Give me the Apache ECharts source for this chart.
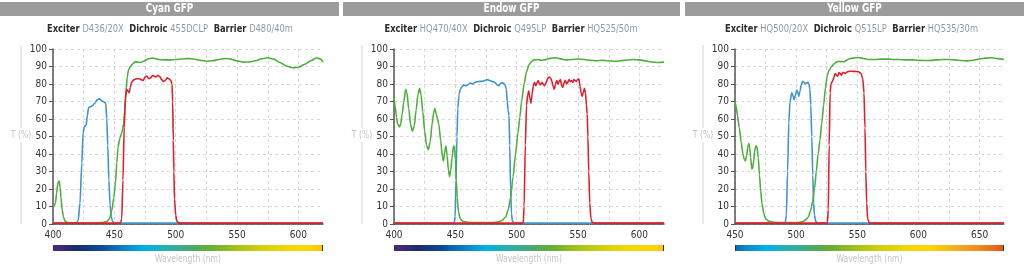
<!DOCTYPE html>
<html><head><meta charset="utf-8">
<script src="https://cdn.jsdelivr.net/npm/echarts@6/dist/echarts.min.js"></script>
<style>html,body{margin:0;padding:0;background:#fff}#c{width:1024px;height:266px}</style>
</head><body><div id="c"></div>
<script>
// ---------- DATA ----------
const panelTitles = ['Cyan GFP', 'Endow GFP', 'Yellow GFP'];
const exciterNames = ['D436/20X', 'HQ470/40X', 'HQ500/20X'];
const dichroicNames = ['455DCLP', 'Q495LP', 'Q515LP'];
const barrierNames = ['D480/40m', 'HQ525/50m', 'HQ535/30m'];
const xRanges = [[400, 620], [400, 620], [450, 670]];
const yTickValues = [0, 10, 20, 30, 40, 50, 60, 70, 80, 90, 100];

// Cyan GFP: [wavelength nm, T %]
const cyanExciter = [[400,0.5],[419,0.5],[420.5,2],[422,12],[423.5,35],[424.5,52],[425.5,55.5],[427,56.5],[428,62],[429,66.5],[430.5,67],[432,67.5],[434,69],[436,71],[437.8,71.5],[439.5,70.5],[441,70],[443,69],[443.8,60],[444.6,45],[445.5,25],[446.5,11],[447.5,4],[448.5,1.5],[450,0.5],[620,0.5]];
const cyanDichroic = [[400,11.5],[401,10.5],[402,12],[403,18],[404,23.5],[405,24.5],[405.8,21],[406.5,15],[407.5,8],[408.5,4],[410,1.5],[412,0.8],[420,0.6],[430,0.6],[440,0.8],[444,1.5],[446,3],[448,8],[449.5,15],[451,24],[452,35],[453,44],[454.5,49],[456,52],[457.5,57],[458.5,65],[459.5,76],[460.5,84],[461.5,88],[463,90],[465,91.5],[467,92.8],[469,92.5],[471,92.3],[473,92.7],[475,93.5],[477,94.2],[479,94.6],[481,94.8],[483,94.6],[485,94.2],[488,93.9],[491,93.8],[495,93.8],[500,94],[505,94.3],[510,94.5],[515,94.3],[520,93.5],[525,93],[530,93.3],[535,94],[540,94.6],[545,94.2],[550,93.2],[555,92.5],[560,92.6],[565,93.3],[570,94.4],[575,95],[580,94.2],[585,92.3],[590,90.3],[595,89.3],[600,89.6],[605,91.2],[610,93.3],[615,95],[618,94.2],[620,92.5]];
const cyanBarrier = [[400,0.5],[455,0.5],[456,3],[457,25],[458,55],[459,72],[460,77],[461,76],[462,75],[463,78],[464,81],[466,82.5],[468,83],[470,83],[472,82.5],[473.5,82],[475,84],[476.5,84.5],[478,83],[479.5,83.5],[481,84.8],[482.5,84.5],[484,84],[485.5,85],[487,84.2],[488.5,82.5],[490,81.5],[491.5,82],[493,83.5],[494.5,83],[496,82],[497,80],[497.5,70],[498,48],[498.5,30],[499,14],[500,5],[501,1.5],[502.5,0.5],[620,0.5]];

// Endow GFP
const endowExciter = [[400,0.5],[449,0.5],[449.8,4],[450.5,25],[451.3,50],[452,66],[453,74],[454,77],[455.5,78.5],[457,79.5],[458.5,79],[460,79.5],[462,80.5],[464,80],[466,81],[468,81.3],[470,81.5],[472,81.5],[474,82],[476,82.5],[478,82],[480,81.5],[482,81],[484,79.5],[485.5,79],[487,80.5],[489,80.5],[490.5,79.5],[491.5,77],[492.3,70],[493,65],[493.7,62],[494.3,45],[495,20],[495.7,6],[496.5,1.5],[498,0.5],[620,0.5]];
const endowDichroic = [[400,72],[401,67],[402,61],[403,57],[404.5,55.5],[405.5,57],[406.5,62],[408,70],[409.5,77],[410.5,75],[412,66],[413.5,57],[415,53],[416.5,56],[418,65],[419.5,74],[420.8,77.5],[422,74],[423.5,64],[425,53],[426.5,45],[428,42.5],[429.5,47],[431,57],[432.5,64],[433.3,66],[434.3,63],[435.5,60],[436.5,57],[438,48],[439.5,38],[440.3,36],[441.3,41],[442.3,44.5],[443.3,39],[444.3,31],[445.3,27],[446.3,31],[447.3,38],[448.5,44.5],[449.3,44],[450,37],[450.8,25],[451.5,15],[452.5,7],[454,3],[456,1.5],[460,1],[470,0.8],[480,0.8],[485,1.2],[488,2],[491,4],[493,8],[495,15],[497,27],[499,40],[501,52],[502.5,61],[504,70],[506,80],[508,87],[510,91],[512,92.8],[514,93.8],[517,94],[520,93.6],[523,93.8],[526,94.4],[529,94.9],[532,95],[535,94.5],[540,93.8],[545,94],[550,94.3],[555,94],[560,93.5],[565,93.3],[570,93.5],[575,93.3],[580,93],[585,93.3],[590,93.7],[595,94],[600,93.8],[605,93.2],[610,92.6],[615,92.3],[620,92.5]];
const endowBarrier = [[400,0.5],[505.3,0.5],[506,10],[507,45],[508,68],[509,74],[509.8,76],[510.7,72],[511.6,69],[512.5,74],[513.5,79],[514.5,81],[515.5,79],[516.5,80.5],[517.5,82],[518.5,80],[519.5,79.5],[520.5,81],[521.5,80],[522.5,79],[523.5,80],[524.5,82],[525.5,83.5],[526.5,84],[527.5,83.5],[528.5,82],[529.5,79],[530.6,77],[531.6,80],[532.6,82],[533.6,80],[534.6,81.5],[535.6,82.5],[536.6,79],[537.6,78],[538.6,81],[539.6,82],[540.6,80],[541.6,81],[542.6,82.5],[543.6,81.5],[544.6,82],[545.6,81],[546.6,82.5],[547.6,82],[548.6,81.5],[549.6,82.5],[550.6,83],[551.5,79],[552.5,75],[553.3,73],[554.2,75],[555.2,77.5],[556,75],[556.8,68],[557.4,63],[558,50],[558.7,30],[559.5,12],[560.5,3],[561.5,1],[563,0.5],[620,0.5]];

// Yellow GFP
const yellowExciter = [[450,0.5],[491,0.5],[492,5],[493,30],[494,58],[495,70],[496.4,75],[497.5,73],[498.4,71],[499.5,74],[500.5,76.5],[501.4,75],[502.2,73],[503.2,76],[504.2,79.5],[505.3,81.5],[506.5,81],[507.4,80],[508.5,80.5],[509.6,81],[510.5,80],[511.2,77],[512,68],[512.8,50],[513.6,28],[514.3,12],[515,5],[516,1.5],[517.5,0.5],[670,0.5]];
const yellowDichroic = [[450,70],[451,67],[452,62],[453.5,55],[455,47],[456.5,40],[457.5,37],[458.5,36],[459.5,39],[460.5,44],[461.3,46],[462,44],[462.8,38],[463.7,31.5],[464.5,32],[465.3,36],[466.2,42],[467.2,44.7],[468,44],[469,38],[470,28],[471,19],[472,12],[473.5,6],[475,3],[478,1.5],[482,1],[490,0.8],[500,0.8],[505,1.2],[508,2.5],[510,4],[512,8],[513.5,13],[515,20],[516.5,30],[518,40],[519.5,48],[521,58],[522.5,68],[524,78],[525.5,85],[527,88],[529,90],[531,91.5],[533,92.5],[535,93],[537,92.8],[539,92.7],[541,93.5],[543,94.3],[546,94.8],[549,95],[552,95],[555,94.6],[560,94],[565,94],[570,94.2],[575,94.2],[580,94],[585,94],[590,93.8],[595,93.8],[600,93.6],[605,93.4],[610,93.5],[615,93.8],[620,94],[625,94],[630,93.8],[635,93.4],[640,93.2],[645,93.6],[650,94.3],[655,94.8],[660,95],[665,94.5],[670,94]];
const yellowBarrier = [[450,0.5],[525.5,0.5],[526.3,8],[527,45],[527.8,75],[528.5,80],[530,82],[531,84],[532,86],[533,85],[534,84.5],[535,86.5],[536,86],[537,85],[538,86.5],[539,86.5],[540,86],[541,86.5],[542,87],[544,87.3],[546,87.2],[548,87.2],[551,87],[553,86],[554.5,83],[555.5,75],[556.3,55],[557,30],[557.7,12],[558.5,3],[560,0.5],[670,0.5]];

const exciterData = [cyanExciter, endowExciter, yellowExciter];
const dichroicData = [cyanDichroic, endowDichroic, yellowDichroic];
const barrierData = [cyanBarrier, endowBarrier, yellowBarrier];

// spectrum colour stops for the wavelength bar (nm, colour)
const spectrumStops = [[400,'#4a2c80'],[420,'#1c2b6c'],[440,'#0d4c9c'],[460,'#0a8ccd'],[475,'#00b0e6'],[490,'#22b2b6'],[500,'#33ae98'],[515,'#4daa62'],[530,'#6fae2e'],[550,'#a6c31a'],[570,'#d3d00a'],[590,'#f1d600'],[610,'#fdd500'],[630,'#f6ad22'],[650,'#ef8a22'],[670,'#e4521a']];

// ---------- LAYOUT / STYLE ----------
const FONT = '"Liberation Sans Narrow","DejaVu Sans Condensed","Roboto Condensed",sans-serif';
const layout = [
  {bar:[0,339], left:53, width:270, tx:21},
  {bar:[343,337], left:394, width:270, tx:362},
  {bar:[685,339], left:735, width:269, tx:703}
];
const GTOP = 49, GH = 175;
const C_BLUE = '#4193d3', C_GREEN = '#50ae3e', C_RED = '#e2202d';

function hex2rgb(h){return [1,3,5].map(i=>parseInt(h.substr(i,2),16));}
function colorAt(w){
  const s = spectrumStops;
  if (w <= s[0][0]) return s[0][1];
  for (let i=1;i<s.length;i++){
    if (w <= s[i][0]){
      const t=(w-s[i-1][0])/(s[i][0]-s[i-1][0]);
      const a=hex2rgb(s[i-1][1]), b=hex2rgb(s[i][1]);
      return 'rgb('+a.map((v,k)=>Math.round(v+(b[k]-v)*t)).join(',')+')';
    }
  }
  return s[s.length-1][1];
}
function gradientFor(min,max){
  const stops=[{offset:0,color:colorAt(min)}];
  spectrumStops.forEach(([w,c])=>{ if(w>min && w<max) stops.push({offset:(w-min)/(max-min),color:c}); });
  stops.push({offset:1,color:colorAt(max)});
  return new echarts.graphic.LinearGradient(0,0,1,0,stops);
}

const grids=[], xAxes=[], yAxes=[], series=[], graphics=[];
layout.forEach((L,i)=>{
  const [mn,mx]=xRanges[i];
  grids.push({left:L.left, top:GTOP, width:L.width, height:GH});
  xAxes.push({type:'value', gridIndex:i, min:mn, max:mx, interval:25,
    axisLine:{lineStyle:{color:'#444',width:1.5}}, axisTick:{show:false},
    axisLabel:{color:'#333',fontFamily:FONT,fontSize:10,margin:6,
      formatter:v=> (v%50===0 ? String(v) : '')},
    splitLine:{show:true, showMaxLine:false, lineStyle:{color:'#d9d9d9',type:[3,3],width:1}}});
  yAxes.push({type:'value', gridIndex:i, min:0, max:100, interval:10,
    axisLine:{show:true,lineStyle:{color:'#555',width:1.5}},
    axisTick:{show:true,length:4,lineStyle:{color:'#555'}},
    axisLabel:{color:'#333',fontFamily:FONT,fontSize:10,margin:6},
    splitLine:{show:true,lineStyle:{color:'#d9d9d9',type:[3,3],width:1}}});
  const common={type:'line', xAxisIndex:i, yAxisIndex:i, showSymbol:false, smooth:0.25, smoothMonotone:'x', animation:false};
  series.push(Object.assign({},common,{name:'Exciter',data:exciterData[i],lineStyle:{color:C_BLUE,width:1.6},itemStyle:{color:C_BLUE},z:2}));
  series.push(Object.assign({},common,{name:'Dichroic',data:dichroicData[i],lineStyle:{color:C_GREEN,width:1.6},itemStyle:{color:C_GREEN},z:3}));
  series.push(Object.assign({},common,{name:'Barrier',data:barrierData[i],lineStyle:{color:C_RED,width:1.6},itemStyle:{color:C_RED},z:4}));

  // title bar
  graphics.push({type:'rect',shape:{x:L.bar[0],y:2,width:L.bar[1],height:14},style:{fill:'#9c9c9c'}});
  graphics.push({type:'text',x:L.bar[0]+L.bar[1]/2,y:9,scaleX:0.82,style:{text:panelTitles[i],fill:'#fff',font:'bold 12px '+FONT,textAlign:'center',textVerticalAlign:'middle'}});
  // subtitle
  const cx = L.left + L.width/2 - 18;
  graphics.push({type:'text',x:cx,y:29,scaleX:0.84,style:{
    text:'{b|Exciter} {v|'+exciterNames[i]+'}  {b|Dichroic} {v|'+dichroicNames[i]+'}  {b|Barrier} {v|'+barrierNames[i]+'}',
    textAlign:'center',textVerticalAlign:'middle',
    rich:{b:{fontFamily:FONT,fontSize:11,fontWeight:'bold',fill:'#2b2b2b'},v:{fontFamily:FONT,fontSize:11,fill:'#8d9aa6'}}}});
  // T (%) label and side line
  graphics.push({type:'text',x:L.tx,y:135,scaleX:0.85,style:{text:'T (%)',fill:'#c4c4c4',font:'10px '+FONT,textAlign:'center',textVerticalAlign:'middle'}});
  graphics.push({type:'line',shape:{x1:L.tx,y1:45,x2:L.tx,y2:128},style:{stroke:'#e2e2e2',lineWidth:1.5}});
  graphics.push({type:'line',shape:{x1:L.tx,y1:142,x2:L.tx,y2:GTOP+GH},style:{stroke:'#e2e2e2',lineWidth:1.5}});
  // wavelength colour bar
  graphics.push({type:'rect',shape:{x:L.left,y:245,width:L.width,height:6},style:{fill:gradientFor(mn,mx)}});
  graphics.push({type:'line',shape:{x1:L.left+0.5,y1:245,x2:L.left+0.5,y2:251},style:{stroke:'#333',lineWidth:1}});
  graphics.push({type:'line',shape:{x1:L.left+L.width-0.5,y1:245,x2:L.left+L.width-0.5,y2:251},style:{stroke:'#333',lineWidth:1}});
  graphics.push({type:'text',x:L.left+L.width/2,y:259,scaleX:0.85,style:{text:'Wavelength (nm)',fill:'#c4c4c4',font:'10px '+FONT,textAlign:'center',textVerticalAlign:'middle'}});
});

const chart = echarts.init(document.getElementById('c'), null, {renderer:'canvas'});
chart.setOption({animation:false, backgroundColor:'#fff', grid:grids, xAxis:xAxes, yAxis:yAxes, series:series, graphic:graphics});
</script></body></html>
